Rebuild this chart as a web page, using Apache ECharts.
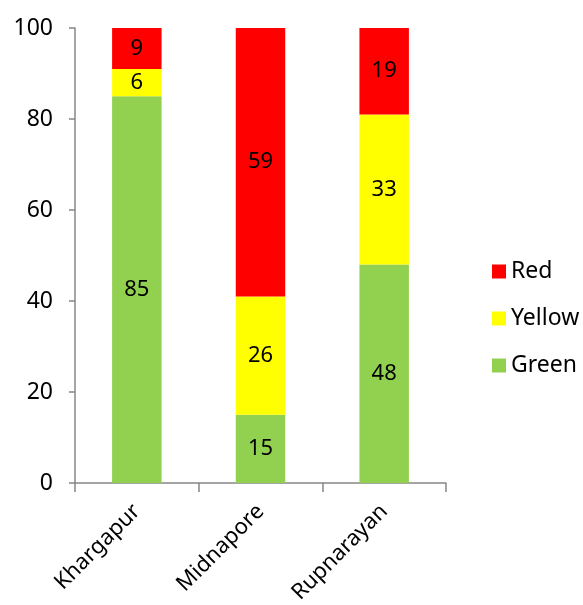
<!DOCTYPE html>
<html><head><meta charset="utf-8">
<script src="https://cdn.jsdelivr.net/npm/echarts@6/dist/echarts.min.js"></script>
<style>html,body{margin:0;padding:0;background:#fff;overflow:hidden}#c{width:583px;height:605px}</style>
</head><body><div id="c"></div>
<script>
const categories = ["Khargapur", "Midnapore", "Rupnarayan"];
const green = [85, 15, 48];
const yellow = [6, 26, 33];
const red = [9, 59, 19];
const yTicks = [0, 20, 40, 60, 80, 100];

const FONT = "'Noto Sans', 'Open Sans', sans-serif";
const FS = 23;
const chart = echarts.init(document.getElementById('c'));
const lbl = {show: true, position: 'inside', color: '#000', fontSize: 22, fontFamily: FONT};
function ser(name, data, color) {
  return {name, type: 'bar', stack: 'a', data, barWidth: '40%',
    itemStyle: {color}, label: lbl, emphasis: {disabled: true}};
}
chart.setOption({
  animation: false,
  textStyle: {fontFamily: FONT},
  grid: {left: 75, right: 137, top: 28, bottom: 122, containLabel: false, outerBoundsMode: 'none'},
  legend: {
    orient: 'vertical', left: 487, top: 255, itemWidth: 14, itemHeight: 14, itemGap: 24,
    icon: 'rect', textStyle: {fontSize: FS, color: '#000', fontFamily: FONT},
    data: ['Red', 'Yellow', 'Green']
  },
  xAxis: {
    type: 'category', data: categories,
    axisLine: {lineStyle: {color: '#878787', width: 1.5}},
    axisTick: {show: true, length: 9, lineStyle: {color: '#878787', width: 1.5}},
    axisLabel: {rotate: 45, fontSize: 22, color: '#000', margin: 25, fontFamily: FONT}
  },
  yAxis: {
    type: 'value', min: yTicks[0], max: yTicks[yTicks.length - 1], interval: 20,
    splitLine: {show: false},
    axisLine: {show: true, lineStyle: {color: '#878787', width: 1.5}},
    axisTick: {show: true, length: 6, lineStyle: {color: '#878787', width: 1.5}},
    axisLabel: {fontSize: FS, color: '#000', margin: 22, fontFamily: FONT}
  },
  series: [ser('Green', green, '#92D050'), ser('Yellow', yellow, '#FFFF00'), ser('Red', red, '#FF0000')]
});
</script></body></html>
